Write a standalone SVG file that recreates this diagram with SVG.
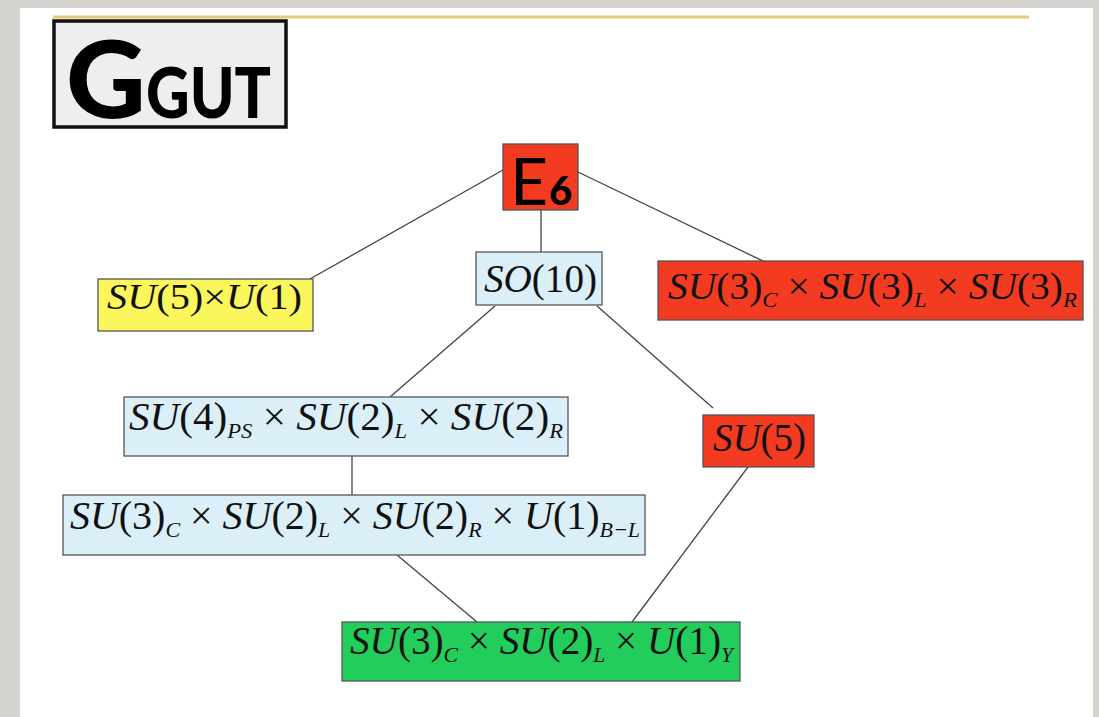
<svg xmlns="http://www.w3.org/2000/svg" width="1099" height="717" viewBox="0 0 1099 717">
<style>
.box{stroke:#555;stroke-width:1.3}
.blue{fill:#dbeff9}
.red{fill:#f23b20}
.yellow{fill:#fbf65c}
.green{fill:#23cd5c}
.m{font-family:"Liberation Serif",serif;fill:#111}
.i{font-style:italic}
.sub{font-size:22px;font-style:italic}
.conn line{stroke:#444;stroke-width:1.3}
</style>
<rect x="0" y="0" width="1099" height="717" fill="#d6d4d0"/>
<rect x="20" y="8" width="1073" height="709" fill="#ffffff"/>
<line x1="53" y1="17" x2="1029" y2="17" stroke="#e8c87a" stroke-width="3"/>
<g id="title">
<rect x="54" y="21" width="232" height="106" fill="#eeeeee" stroke="#111" stroke-width="3.5"/>
<text x="66" y="118" font-family="Lato,'DejaVu Sans',sans-serif" font-weight="900" fill="#000"><tspan font-size="106" textLength="80" lengthAdjust="spacingAndGlyphs">G</tspan><tspan font-size="70" textLength="125" lengthAdjust="spacingAndGlyphs">GUT</tspan></text>
</g>
<g class="conn" id="connectors">
<line x1="503" y1="170" x2="310" y2="279"/>
<line x1="541" y1="210" x2="541" y2="252"/>
<line x1="578" y1="172" x2="765" y2="262"/>
<line x1="495" y1="306" x2="390" y2="397"/>
<line x1="597" y1="306" x2="713" y2="408"/>
<line x1="352" y1="456" x2="352" y2="495"/>
<line x1="397" y1="555" x2="477" y2="622"/>
<line x1="748" y1="467" x2="632" y2="622"/>
</g>
<g id="e6">
<rect class="box red" x="503" y="144" width="75" height="66"/>
<text x="510" y="205" font-family="Lato,'DejaVu Sans',sans-serif" fill="#000"><tspan font-size="66">E</tspan><tspan x="549" font-size="40" font-weight="900">6</tspan></text>
</g>
<g id="so10">
<rect class="box blue" x="476" y="252" width="126" height="53"/>
<text class="m" x="484" y="292" font-size="40" textLength="113" lengthAdjust="spacingAndGlyphs"><tspan class="i">SO</tspan>(10)</text>
</g>
<g id="su5u1">
<rect class="box yellow" x="98" y="279" width="215" height="52"/>
<text class="m" x="107" y="309" font-size="36" textLength="195" lengthAdjust="spacingAndGlyphs"><tspan class="i">SU</tspan>(5)×<tspan class="i">U</tspan>(1)</text>
</g>
<g id="su3su3su3">
<rect class="box red" x="658" y="261" width="425" height="59"/>
<text class="m" x="668" y="299" font-size="38" textLength="409" lengthAdjust="spacingAndGlyphs"><tspan class="i">SU</tspan>(3)<tspan class="sub" dy="8">C</tspan><tspan dy="-8"> × </tspan><tspan class="i">SU</tspan>(3)<tspan class="sub" dy="8">L</tspan><tspan dy="-8"> × </tspan><tspan class="i">SU</tspan>(3)<tspan class="sub" dy="8">R</tspan></text>
</g>
<g id="su4su2su2">
<rect class="box blue" x="124" y="397" width="444" height="59"/>
<text class="m" x="129" y="430" font-size="40" textLength="434" lengthAdjust="spacingAndGlyphs"><tspan class="i">SU</tspan>(4)<tspan class="sub" dy="8">PS</tspan><tspan dy="-8"> × </tspan><tspan class="i">SU</tspan>(2)<tspan class="sub" dy="8">L</tspan><tspan dy="-8"> × </tspan><tspan class="i">SU</tspan>(2)<tspan class="sub" dy="8">R</tspan></text>
</g>
<g id="su5">
<rect class="box red" x="703" y="415" width="111" height="52"/>
<text class="m" x="713" y="451" font-size="40" textLength="93" lengthAdjust="spacingAndGlyphs"><tspan class="i">SU</tspan>(5)</text>
</g>
<g id="lr">
<rect class="box blue" x="63" y="495" width="582" height="60"/>
<text class="m" x="70" y="529" font-size="40" textLength="570" lengthAdjust="spacingAndGlyphs"><tspan class="i">SU</tspan>(3)<tspan class="sub" dy="8">C</tspan><tspan dy="-8"> × </tspan><tspan class="i">SU</tspan>(2)<tspan class="sub" dy="8">L</tspan><tspan dy="-8"> × </tspan><tspan class="i">SU</tspan>(2)<tspan class="sub" dy="8">R</tspan><tspan dy="-8"> × </tspan><tspan class="i">U</tspan>(1)<tspan class="sub" dy="8">B−L</tspan></text>
</g>
<g id="sm">
<rect class="box green" x="342" y="622" width="398" height="59"/>
<text class="m" x="350" y="654" font-size="40" textLength="383" lengthAdjust="spacingAndGlyphs"><tspan class="i">SU</tspan>(3)<tspan class="sub" dy="8">C</tspan><tspan dy="-8"> × </tspan><tspan class="i">SU</tspan>(2)<tspan class="sub" dy="8">L</tspan><tspan dy="-8"> × </tspan><tspan class="i">U</tspan>(1)<tspan class="sub" dy="8">Y</tspan></text>
</g>
</svg>
